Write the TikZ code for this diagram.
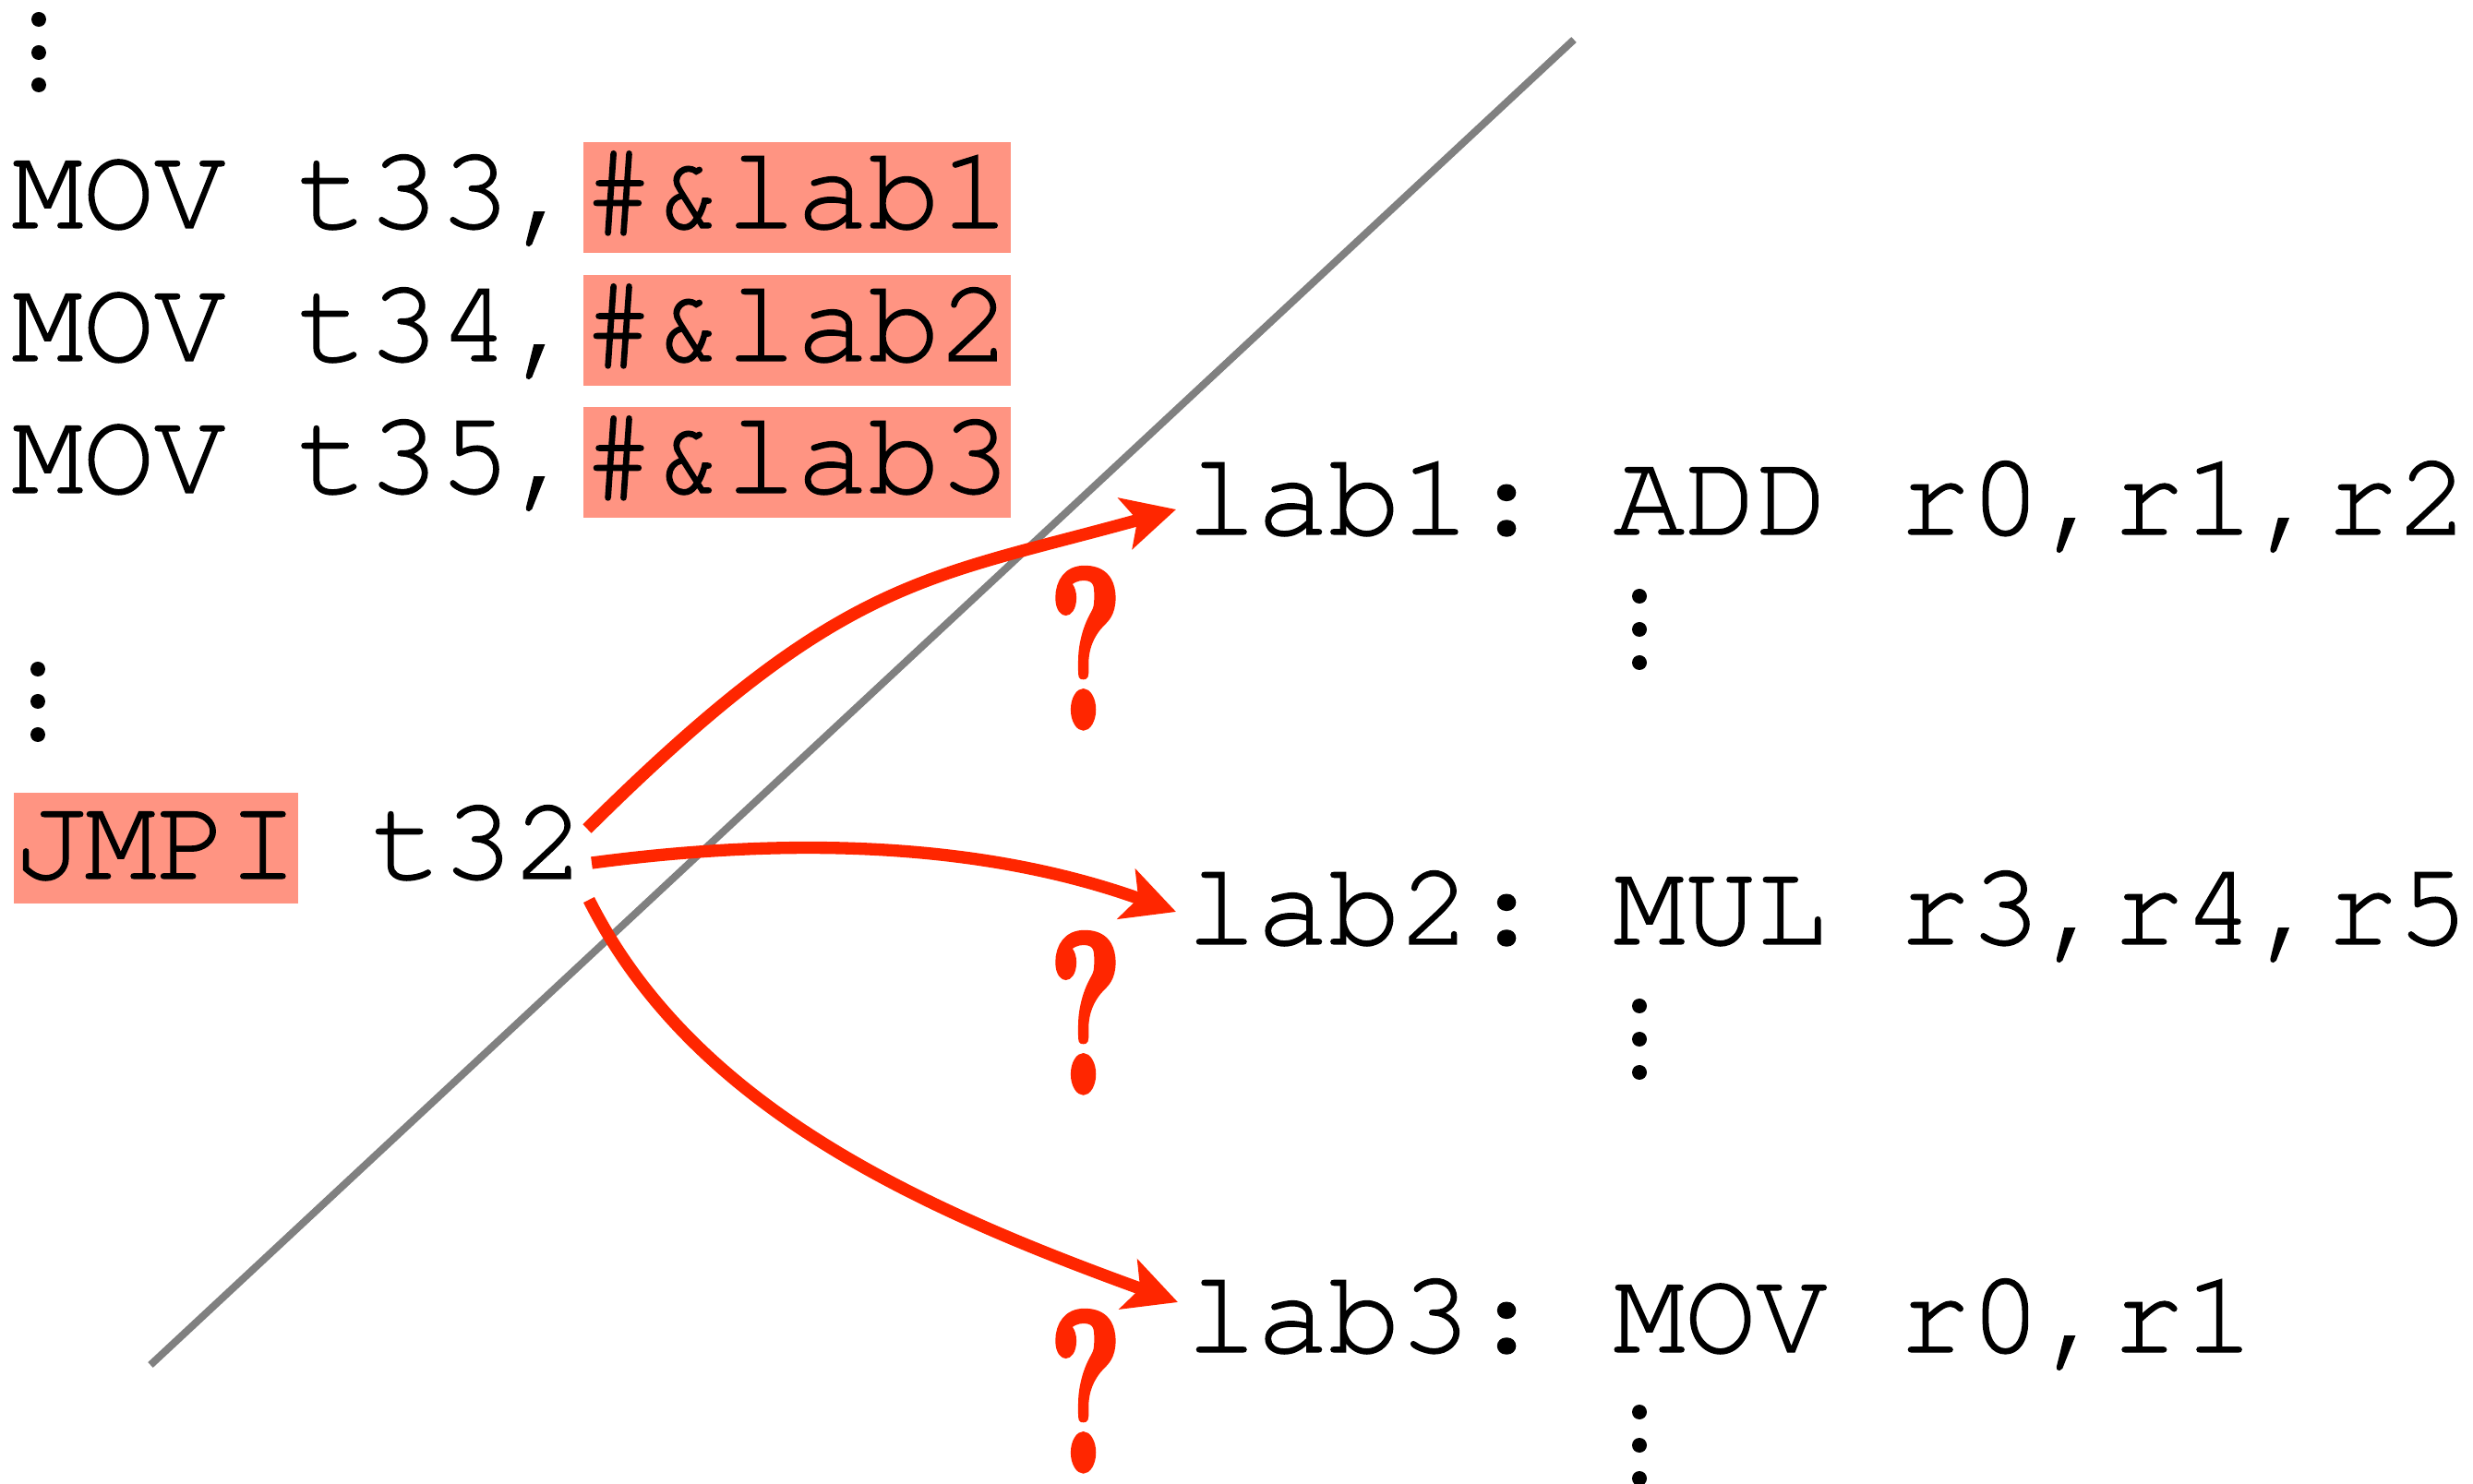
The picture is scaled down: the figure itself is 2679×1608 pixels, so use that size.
\documentclass[tikz,border=0pt]{standalone}
\usepackage{fontspec}
\usepackage{graphicx}
\newfontfamily\cour{texgyrecursor}[Extension=.otf,UprightFont=*-regular,BoldFont=*-bold,FakeBold=1.1]
\newfontfamily\qfont{lmroman10-bold}[Extension=.otf,FakeBold=3]
\usetikzlibrary{arrows.meta,calc}
\definecolor{hl}{RGB}{255,148,130}
\definecolor{myred}{RGB}{255,38,0}
\definecolor{divgrey}{RGB}{128,128,128}
\tikzset{
  code/.style={font=\cour\frenchspacing\fontsize{38.6pt}{40pt}\selectfont, inner sep=0pt, anchor=base west, text height=27.9pt, text depth=8.1pt},
  hlbox/.style={code, fill=hl},
  qmark/.style={font=\qfont\fontsize{73.5pt}{80pt}\selectfont, text=myred, inner sep=0pt, anchor=base},
  jump/.style={draw=myred, line width=4pt, -{Stealth[length=17pt,width=17pt,inset=4pt]}},
  divider/.style={draw=divgrey, line width=2.4pt},
  vdot/.style={fill=black}
}
\begin{document}
\frenchspacing
\begin{tikzpicture}[x=0.3pt,y=-0.3pt]
\useasboundingbox (0,0) rectangle (2679,1608);
% divider
\coordinate (dA) at (163,1479);
\coordinate (dB) at (1705,43);
\draw[divider] (dA) -- (dB);
% left code
\node[code] (mov1) at (12,247) {MOV t33,};
\node[hlbox] (h1) at (mov1.base east) {\#\&lab1};
\node[code] (mov2) at (12,391) {MOV t34,};
\node[hlbox] (h2) at (mov2.base east) {\#\&lab2};
\node[code] (mov3) at (12,534) {MOV t35,};
\node[hlbox] (h3) at (mov3.base east) {\#\&lab3};
\node[hlbox] (jmpi) at (14,952) {JMPI};
\node[code] (t32) at ($(jmpi.base east)+(77.2,0)$) {t32};
% right code
\node[code] (lab1) at (1284,579) {lab1: ADD r0,r1,r2};
\node[code] (lab2) at (1284,1023) {lab2: MUL r3,r4,r5};
\node[code] (lab3) at (1284,1465) {lab3: MOV r0,r1};
% vertical dots
\foreach \y in {21,57,92} \fill[vdot] (42,\y) circle[radius=8];
\foreach \y in {725,760,796} \fill[vdot] (41,\y) circle[radius=8];
\foreach \b in {579,1023,1463} {
  \foreach \d in {67,103,139} \fill[vdot] (1776,\b+\d) circle[radius=8];
}
% question marks
\node[qmark] (q1) at (1176,788) {\scalebox{0.6}[1]{?}};
\node[qmark] (q2) at (1176,1183) {\scalebox{0.6}[1]{?}};
\node[qmark] (q3) at (1176,1593) {\scalebox{0.6}[1]{?}};
% arrows
\coordinate (s1) at (636,898);
\coordinate (s2) at (641,935);
\coordinate (s3) at (638,975);
\coordinate (e1) at (1274,552);
\coordinate (e2) at (1274,988);
\coordinate (e3) at (1276,1411);
\draw[jump] (s1) .. controls (912,624) and (1000,628) .. (e1);
\draw[jump] (s2) .. controls (859,906) and (1065,913) .. (e2);
\draw[jump] (s3) .. controls (750,1198) and (992,1308) .. (e3);
\end{tikzpicture}
\end{document}
